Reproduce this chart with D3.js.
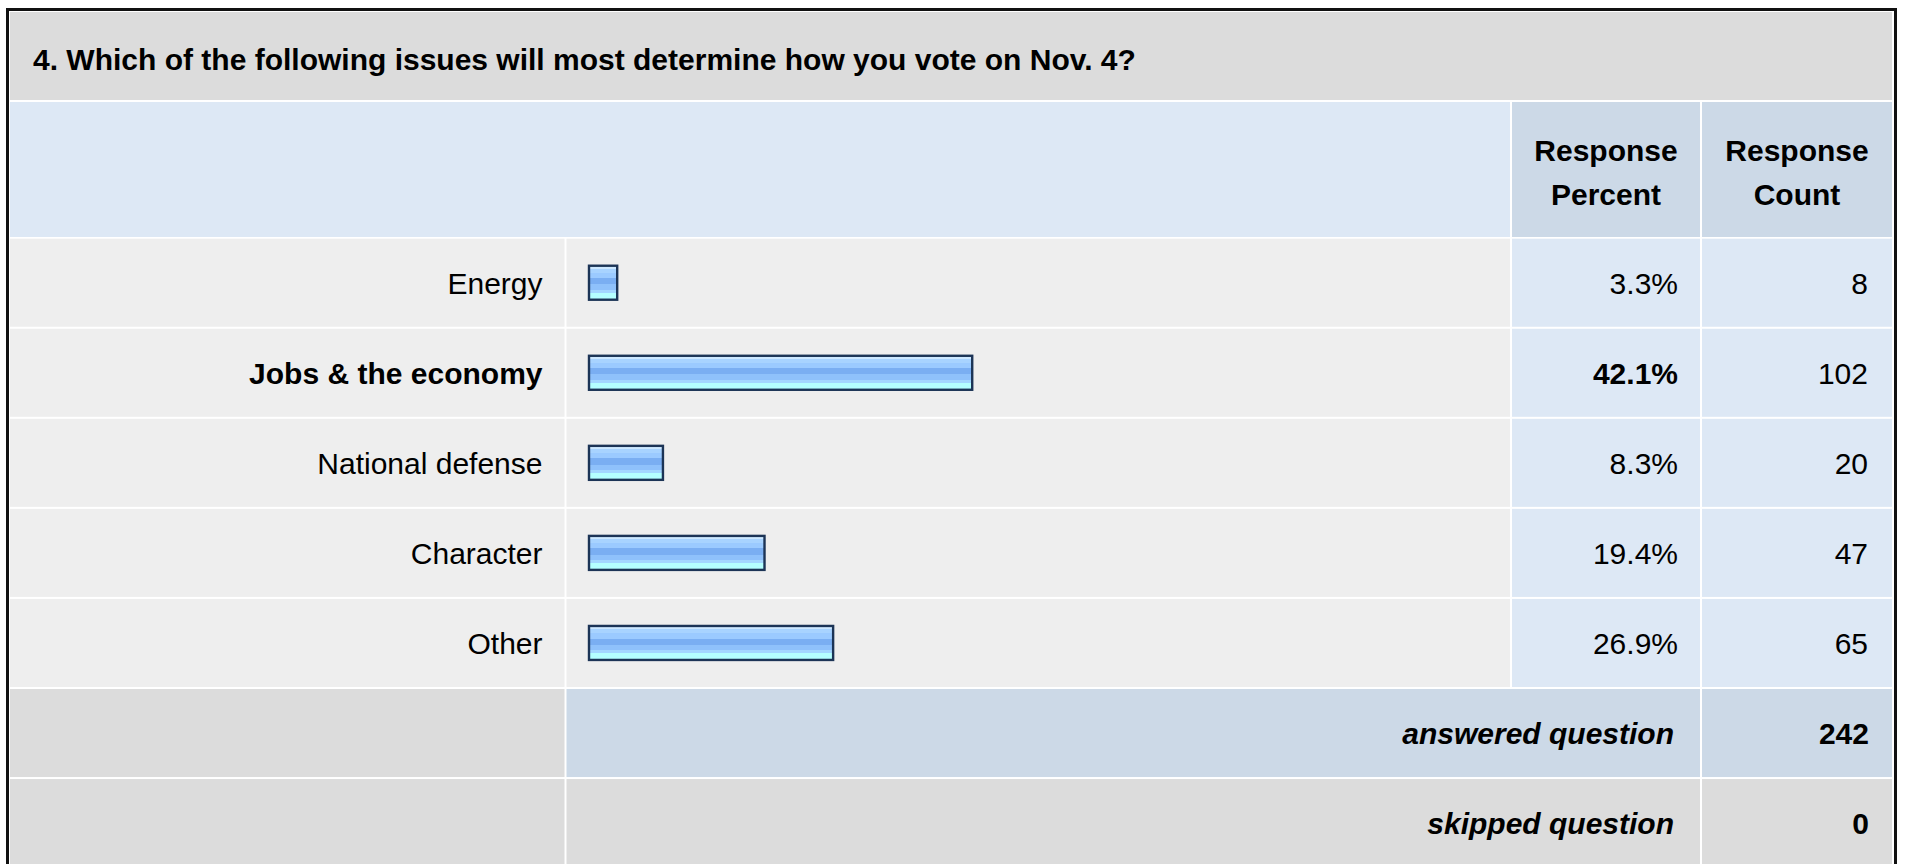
<!DOCTYPE html>
<html>
<head>
<meta charset="utf-8">
<script src="https://cdn.jsdelivr.net/npm/d3@7"></script>
<style>
  html, body { margin: 0; padding: 0; background: #ffffff; }
  svg { display: block; font-family: "Liberation Sans", Arial, sans-serif; }
</style>
</head>
<body>
<div id="chart"></div>
<script>
const question = '4. Which of the following issues will most determine how you vote on Nov. 4?';
const categories = ['Energy', 'Jobs & the economy', 'National defense', 'Character', 'Other'];
const percents = [3.3, 42.1, 8.3, 19.4, 26.9];
const counts = [8, 102, 20, 47, 65];
const header_lines = [['Response', 'Percent'], ['Response', 'Count']];
const footer_labels = ['answered question', 'skipped question'];
const footer_values = [242, 0];

(function() {
    const width = 1907, height = 864;
    const font_size = 30;

    // column edges
    const col = {
        left: 10,
        label_end: 564.5,
        bar_start: 566.5,
        bar_end: 1510,
        pct_start: 1512,
        pct_end: 1700,
        cnt_start: 1702,
        right: 1892
    };

    const grey = '#dcdcdc',
        light = '#eeeeee',
        blue = '#dde8f5',
        blue_dark = '#ccd9e7';

    const max_i = percents.indexOf(d3.max(percents));

    let svg = d3.select('#chart').append('svg')
        .attr('width', width)
        .attr('height', height)
        .attr('font-size', font_size);

    let defs = svg.append('defs');
    let grad = defs.append('linearGradient')
        .attr('id', 'bar-grad')
        .attr('x1', 0).attr('y1', 0).attr('x2', 0).attr('y2', 1);
    [
        [0, '#cde8ff'], [0.1, '#cde8ff'], [0.1, '#a8d3ff'], [0.2, '#a8d3ff'],
        [0.2, '#9bcaff'], [0.37, '#9bcaff'], [0.37, '#7aaef2'], [0.55, '#7aaef2'],
        [0.55, '#8fc1fb'], [0.7, '#8fc1fb'], [0.7, '#a3d6ff'], [0.8, '#a3d6ff'],
        [0.8, '#b4ffff'], [1, '#b4ffff']
    ].forEach(([o, c]) => grad.append('stop').attr('offset', o).attr('stop-color', c));

    // rows: 5 answers + 2 footer rows
    const row_keys = categories.concat(footer_labels);
    const y = d3.scaleBand()
        .domain(row_keys)
        .range([238.7, 238.7 + 89.77 * row_keys.length])
        .paddingInner(2 / 89.77)
        .paddingOuter(0);

    const x = d3.scaleLinear().domain([0, 100]).range([0, 915]);

    let cell = function(x0, x1, y0, h, fill) {
        svg.append('rect')
            .attr('x', x0).attr('y', y0)
            .attr('width', x1 - x0).attr('height', h)
            .attr('fill', fill);
    };

    // title row
    cell(col.left, col.right, 12, 88, grey);
    svg.append('text')
        .attr('x', 33).attr('y', 70)
        .attr('font-weight', 'bold')
        .attr('fill', '#000')
        .text(question);

    // header row
    cell(col.left, col.pct_start - 2, 102, 135, blue);
    cell(col.pct_start, col.pct_end, 102, 135, blue_dark);
    cell(col.cnt_start, col.right, 102, 135, blue_dark);
    [[col.pct_start, col.pct_end], [col.cnt_start, col.right]].forEach(function([a, b], i) {
        let t = svg.append('text')
            .attr('text-anchor', 'middle')
            .attr('font-weight', 'bold')
            .attr('fill', '#000');
        header_lines[i].forEach(function(line, j) {
            t.append('tspan')
                .attr('x', (a + b) / 2)
                .attr('y', 161 + j * 44)
                .text(line);
        });
    });

    // answer rows
    let rows = svg.append('g').selectAll('g')
        .data(categories.map((c, i) => ({ name: c, pct: percents[i], count: counts[i], i: i })))
        .enter().append('g')
        .attr('transform', (d) => 'translate(0,' + y(d.name) + ')');

    const bh = y.bandwidth();

    rows.append('rect')
        .attr('x', col.left).attr('width', col.label_end - col.left)
        .attr('height', bh).attr('fill', light);
    rows.append('rect')
        .attr('x', col.bar_start).attr('width', col.bar_end - col.bar_start)
        .attr('height', bh).attr('fill', light);
    rows.append('rect')
        .attr('x', col.pct_start).attr('width', col.pct_end - col.pct_start)
        .attr('height', bh).attr('fill', blue);
    rows.append('rect')
        .attr('x', col.cnt_start).attr('width', col.right - col.cnt_start)
        .attr('height', bh).attr('fill', blue);

    rows.append('text')
        .attr('x', col.label_end - 22)
        .attr('y', bh / 2 + 11)
        .attr('text-anchor', 'end')
        .attr('font-weight', (d) => d.i === max_i ? 'bold' : 'normal')
        .attr('fill', '#000')
        .text((d) => d.name);

    rows.append('rect')
        .attr('x', 589)
        .attr('y', bh / 2 - 18 + 1)
        .attr('width', (d) => x(d.pct) - 2)
        .attr('height', 34)
        .attr('fill', 'url(#bar-grad)')
        .attr('stroke', '#1c3456')
        .attr('stroke-width', 2.4);

    rows.append('text')
        .attr('x', col.pct_end - 22)
        .attr('y', bh / 2 + 11)
        .attr('text-anchor', 'end')
        .attr('font-weight', (d) => d.i === max_i ? 'bold' : 'normal')
        .attr('fill', '#000')
        .text((d) => d.pct.toFixed(1) + '%');

    rows.append('text')
        .attr('x', col.right - 24)
        .attr('y', bh / 2 + 11)
        .attr('text-anchor', 'end')
        .attr('fill', '#000')
        .text((d) => d.count);

    // footer rows
    footer_labels.forEach(function(label, i) {
        const y0 = y(label);
        const mid = i === 0 ? blue_dark : grey;
        cell(col.left, col.label_end, y0, bh, grey);
        cell(col.bar_start, col.pct_end, y0, bh, mid);
        cell(col.cnt_start, col.right, y0, bh, mid);
        svg.append('text')
            .attr('x', col.pct_end - 26)
            .attr('y', y0 + bh / 2 + 11)
            .attr('text-anchor', 'end')
            .attr('font-weight', 'bold')
            .attr('font-style', 'italic')
            .attr('fill', '#000')
            .text(label);
        svg.append('text')
            .attr('x', col.right - 23)
            .attr('y', y0 + bh / 2 + 11)
            .attr('text-anchor', 'end')
            .attr('font-weight', 'bold')
            .attr('fill', '#000')
            .text(footer_values[i]);
    });

    // outer frame
    svg.append('rect')
        .attr('x', 7.5).attr('y', 9.5)
        .attr('width', 1895.5 - 7.5).attr('height', 900)
        .attr('fill', 'none')
        .attr('stroke', '#111')
        .attr('stroke-width', 3);
}());
</script>
</body>
</html>
